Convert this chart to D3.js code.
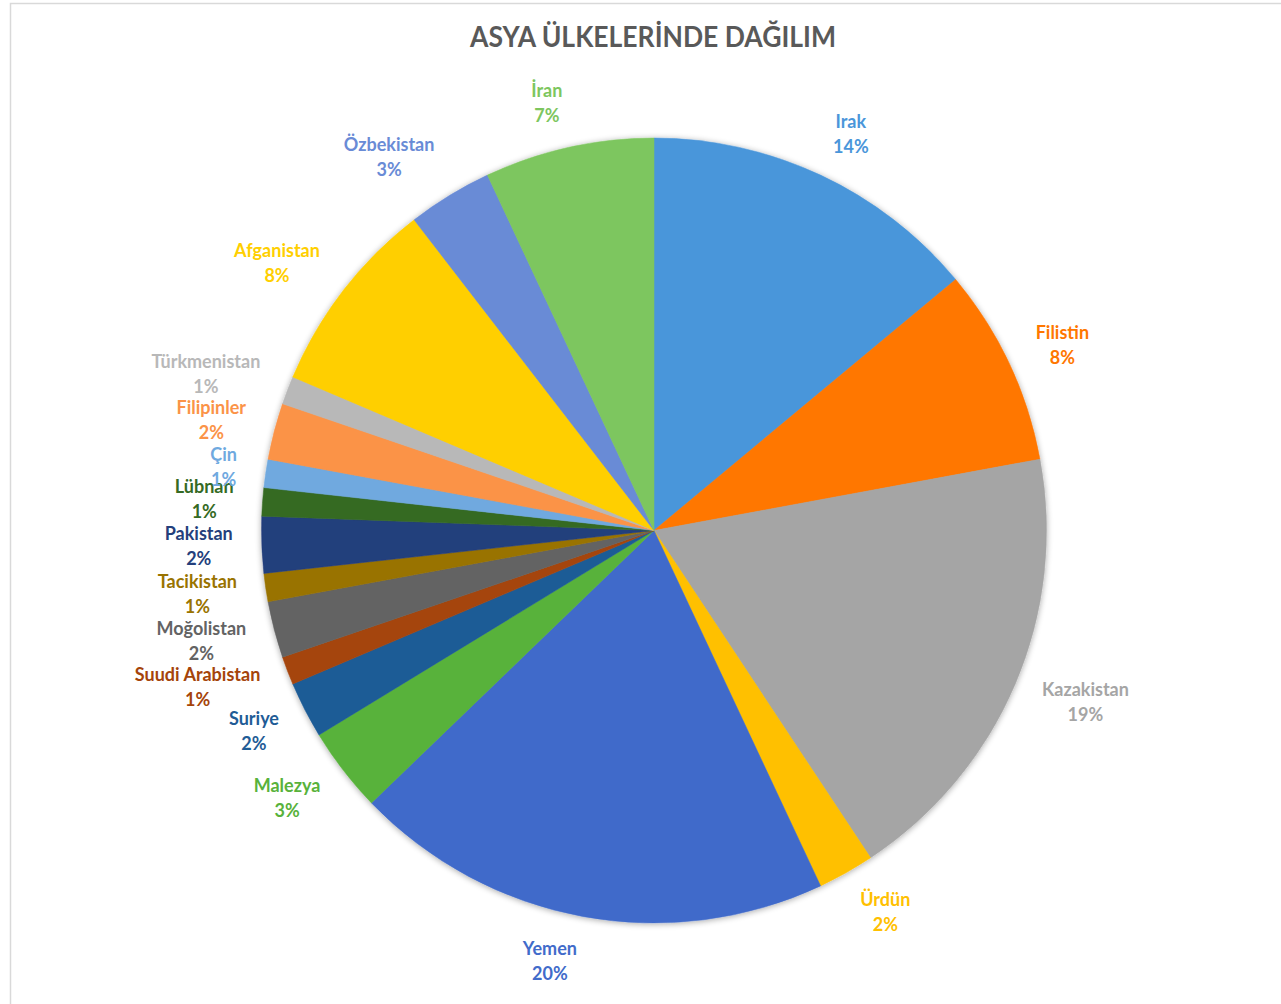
<!DOCTYPE html>
<html lang="tr">
<head>
<meta charset="utf-8">
<script src="https://cdn.jsdelivr.net/npm/d3@7"></script>
<style>
  html, body { margin: 0; padding: 0; background: #ffffff; }
  svg { display: block; }
</style>
</head>
<body>
<svg id="chart" width="1281" height="1004"></svg>
<script>
// Ülke adları (saat yönünde, tepeden başlayarak)
const countries = [
  "Irak", "Filistin", "Kazakistan", "Ürdün", "Yemen", "Malezya", "Suriye",
  "Suudi Arabistan", "Moğolistan", "Tacikistan", "Pakistan", "Lübnan", "Çin",
  "Filipinler", "Türkmenistan", "Afganistan", "Özbekistan", "İran"
];
// Her ülkedeki kişi sayısı
const counts = [12, 7, 16, 2, 17, 3, 2, 1, 2, 1, 2, 1, 1, 2, 1, 7, 3, 6];
// Dilim renkleri
const colors = [
  "#4a96da", "#ff7700", "#a5a5a5", "#ffc000", "#416bca", "#58b23b", "#1f5c96",
  "#a5440a", "#636363", "#997300", "#243f7c", "#356a24", "#6fa9df",
  "#fb9347", "#b8b8b8", "#ffcf00", "#698bd6", "#7dc65e"
];
const titleText = "ASYA ÜLKELERİNDE DAĞILIM";

const W = 1281, H = 1004;
const cx = 654, cy = 530.5, radius = 392.5;
const labelFont = "Lato, 'Open Sans', sans-serif";

const svg = d3.select("#chart");

// Grafik alanı çerçevesi
svg.append("rect")
  .attr("x", 10.5).attr("y", 3.5)
  .attr("width", W + 20).attr("height", H + 20)
  .attr("fill", "#ffffff")
  .attr("stroke", "#d9d9d9")
  .attr("stroke-width", 1.5);

// Başlık
svg.append("text")
  .attr("x", 653).attr("y", 47)
  .attr("text-anchor", "middle")
  .attr("font-family", labelFont)
  .attr("font-weight", 700)
  .attr("font-size", 28)
  .attr("fill", "#595959")
  .attr("textLength", 366)
  .attr("lengthAdjust", "spacingAndGlyphs")
  .text(titleText);

// Pastanın kenarındaki yumuşak gölge
const defs = svg.append("defs");
const shadow = defs.append("filter").attr("id", "pieShadow")
  .attr("x", "-10%").attr("y", "-10%").attr("width", "120%").attr("height", "120%");
shadow.append("feGaussianBlur").attr("in", "SourceAlpha").attr("stdDeviation", 3).attr("result", "blur");
shadow.append("feOffset").attr("in", "blur").attr("dx", 0).attr("dy", 1).attr("result", "off");
shadow.append("feComponentTransfer").attr("in", "off").attr("result", "soft")
  .append("feFuncA").attr("type", "linear").attr("slope", 0.35);
const merge = shadow.append("feMerge");
merge.append("feMergeNode").attr("in", "soft");
merge.append("feMergeNode").attr("in", "SourceGraphic");

const data = countries.map((name, i) => ({ name, value: counts[i], color: colors[i] }));
const total = d3.sum(counts);
const pct = d3.format(".0%");

const pie = d3.pie().value(d => d.value).sort(null);
const arcs = pie(data);
const arc = d3.arc().innerRadius(0).outerRadius(radius);

const g = svg.append("g").attr("transform", `translate(${cx},${cy})`);

g.append("g").attr("filter", "url(#pieShadow)")
  .selectAll("path")
  .data(arcs)
  .join("path")
  .attr("d", arc)
  .attr("fill", d => d.data.color)
  .attr("stroke", d => d.data.color)
  .attr("stroke-width", 0.5);

// Etiketler: dilimin orta açısında, dış kenarın dışında
const labelR = radius + 25;
const lineGap = 25;
const fontSize = 18;

const labels = g.append("g")
  .attr("font-family", labelFont)
  .attr("font-weight", 700)
  .attr("font-size", fontSize)
  .attr("text-anchor", "middle");

arcs.forEach(d => {
  const a = (d.startAngle + d.endAngle) / 2;
  const s = Math.sin(a), c = Math.cos(a);
  const t = labels.append("text").attr("fill", d.data.color);
  t.append("tspan").attr("x", 0).attr("dy", 0).text(d.data.name);
  t.append("tspan").attr("x", 0).attr("dy", lineGap).text(pct(d.data.value / total));
  // Etiket kutusunu ölç; kutu yatayda dilimin tarafına tamamen kaydırılır
  const bb = t.node().getBBox();
  const halfW = bb.width / 2, halfH = (lineGap + fontSize) / 2;
  const px = (labelR + 4) * s + Math.sign(s) * halfW;
  const py = -(labelR - 1) * c - halfH * c;
  const baseY = py - lineGap / 2 + fontSize * 0.36;
  t.attr("transform", `translate(${px},${baseY})`);
});
</script>
</body>
</html>
